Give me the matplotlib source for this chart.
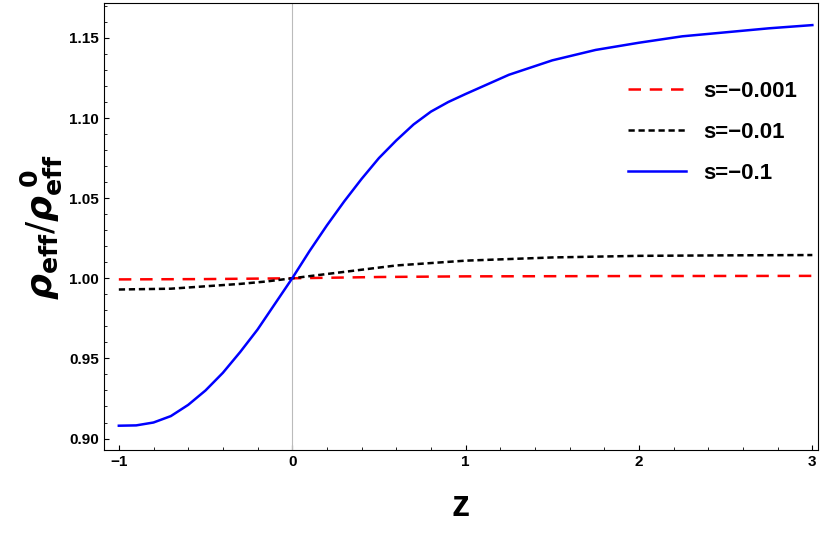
import numpy as np
import matplotlib.pyplot as plt

# values
z_blue = [-1.0, -0.9, -0.8, -0.7, -0.6, -0.5, -0.4, -0.3, -0.2, -0.1, 0.0, 0.1, 0.2, 0.3, 0.4, 0.5,
          0.6, 0.7, 0.8, 0.9, 1.0, 1.25, 1.5, 1.75, 2.0, 2.25, 2.5, 2.75, 3.0]
rho_blue = [0.908, 0.9082, 0.910, 0.914, 0.921, 0.930, 0.941, 0.954, 0.968, 0.984, 1.000, 1.017, 1.033,
            1.048, 1.062, 1.075, 1.086, 1.096, 1.104, 1.110, 1.115, 1.127, 1.136, 1.1425, 1.147, 1.151,
            1.1535, 1.156, 1.158]
z_black = [-1.0, -0.7, -0.5, -0.3, -0.15, 0.0, 0.15, 0.3, 0.6, 1.0, 1.5, 2.0, 2.5, 3.0]
rho_black = [0.993, 0.9935, 0.995, 0.9965, 0.998, 1.000, 1.002, 1.004, 1.008, 1.011, 1.013, 1.014, 1.0143, 1.0145]
z_red = [-1.0, -0.5, 0.0, 0.5, 1.0, 2.0, 3.0]
rho_red = [0.9993, 0.9995, 1.000, 1.0008, 1.0012, 1.0014, 1.0015]
labels = ['s=\u22120.001', 's=\u22120.01', 's=\u22120.1']

plt.rcParams['font.family'] = ['Liberation Sans', 'DejaVu Sans']
fig, ax = plt.subplots(figsize=(8.3, 5.33), dpi=100)
fig.subplots_adjust(left=0.125, right=0.985, bottom=0.155, top=0.995)

ax.axvline(0, color='#bbbbbb', lw=0.8)
ax.plot(z_red, rho_red, color='red', ls=(0, (5, 3.5)), lw=1.8, label=labels[0])
ax.plot(z_black, rho_black, color='black', ls=(0, (2.5, 1.5)), lw=1.8, label=labels[1])
ax.plot(z_blue, rho_blue, color='blue', lw=1.8, label=labels[2])

ax.set_xlim(-1.087, 3.03)
ax.set_ylim(0.8926, 1.172)
ax.set_xticks([-1, 0, 1, 2, 3])
ax.set_xticklabels(['\u22121', '0', '1', '2', '3'])
ax.set_yticks([0.90, 0.95, 1.00, 1.05, 1.10, 1.15])
ax.set_yticklabels(['0.90', '0.95', '1.00', '1.05', '1.10', '1.15'])
ax.minorticks_on()
ax.tick_params(labelsize=11, direction='in')
ax.tick_params(which='minor', direction='in')
for lab in ax.get_xticklabels() + ax.get_yticklabels():
    lab.set_fontweight('bold')

ax.set_xlabel('z', fontsize=26, fontweight='bold', labelpad=14)
ax.set_ylabel(r'$\boldsymbol{\rho}_{\mathbf{eff}}/\boldsymbol{\rho}_{\mathbf{eff}}^{\ \mathbf{0}}$', fontsize=26)

leg = ax.legend(loc='upper right', bbox_to_anchor=(1.0, 0.87), frameon=False,
                prop={'size': 16, 'weight': 'bold'}, handlelength=2.6, labelspacing=0.9)

fig.savefig('out.png')
